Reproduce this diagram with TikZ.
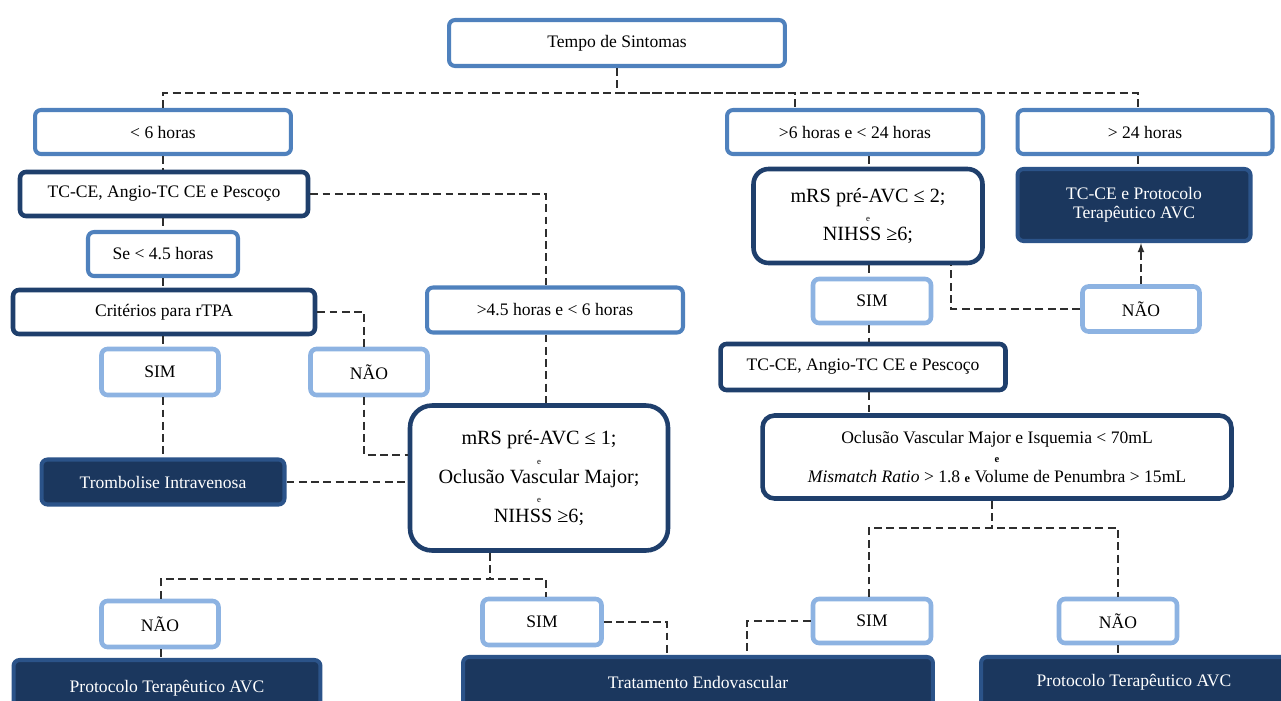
\documentclass[tikz,border=0pt]{standalone}
\usepackage{fontspec}
\setmainfont{Liberation Serif}
\usetikzlibrary{arrows}
\definecolor{midblue}{HTML}{4F81BD}
\definecolor{lightblue}{HTML}{8DB3E2}
\definecolor{navy}{HTML}{1F3F6C}
\definecolor{navyfill}{HTML}{1B375E}
\definecolor{navyedge}{HTML}{2B5389}
\definecolor{dashgray}{HTML}{2E2E2E}
\tikzset{bx/.append style={draw, rounded corners=0.12cm, align=center, inner sep=0pt, fill=white, font=\fontsize{10}{11}\selectfont}}
\tikzset{mb/.append style={bx, draw=midblue, line width=2.3pt}}
\tikzset{lb/.append style={bx, draw=lightblue, line width=2.6pt}}
\tikzset{nb/.append style={bx, draw=navy, line width=2.6pt}}
\tikzset{nf/.append style={bx, draw=navyedge, fill=navyfill, line width=2.3pt, text=white}}
\tikzset{big/.append style={font=\fontsize{11.5}{11}\selectfont}}
\tikzset{dl/.append style={draw=dashgray, line width=0.8pt, dash pattern=on 4.5pt off 2.5pt}}

\begin{document}
\begin{tikzpicture}[x=0.02cm,y=-0.02cm]
                \useasboundingbox (0,0) rectangle (1281,700);
                \clip (0,0) rectangle (1281,700);
                % top and time windows
                \node[mb,minimum width=6.72cm,minimum height=0.92cm] (tempo) at (617,43) {Tempo de Sintomas};
                \node[mb,minimum width=5.12cm,minimum height=0.88cm] (h6) at (163,132) {< 6 horas};
                \node[mb,minimum width=5.12cm,minimum height=0.88cm] (h24) at (855,132) {>6 horas e < 24 horas};
                \node[mb,minimum width=5.10cm,minimum height=0.88cm] (hmore) at (1145,132) {> 24 horas};
                % left branch
                \node[nb,minimum width=5.76cm,minimum height=0.88cm] (tcL) at (164,194) {TC-CE, Angio-TC CE e Pescoço};
                \node[mb,minimum width=3.0cm,minimum height=0.88cm] (se45) at (163,254) {Se < 4.5 horas};
                \node[nb,minimum width=6.04cm,minimum height=0.88cm] (crit) at (164,312) {Critérios para rTPA};
                \node[lb,minimum width=2.34cm,minimum height=0.92cm] (simA) at (160,372) {SIM};
                \node[lb,minimum width=2.34cm,minimum height=0.92cm] (naoA) at (369,372) {NÃO};
                \node[nf,minimum width=4.86cm,minimum height=0.9cm] (tromb) at (163,482) {Trombolise Intravenosa};
                \node[mb,minimum width=5.12cm,minimum height=0.9cm] (h45) at (555,310) {>4.5 horas e < 6 horas};
                \node[nb,big,rounded corners=0.44cm,minimum width=5.16cm,minimum height=2.9cm] (mrs1) at (539,478)
                    {mRS pré-AVC ≤ 1;\\ {\fontsize{5}{5}\selectfont e}\\ Oclusão Vascular Major;\\ {\fontsize{5}{5}\selectfont e}\\ NIHSS ≥6;};
                \node[lb,minimum width=2.34cm,minimum height=0.92cm] (naoB) at (160,624) {NÃO};
                \node[lb,minimum width=2.38cm,minimum height=0.92cm] (simB) at (542,622) {SIM};
                \node[nf,minimum width=6.14cm,minimum height=1.12cm] (protL) at (167,688) {Protocolo Terapêutico AVC};
                \node[nf,minimum width=9.4cm,minimum height=1.0cm] (trat) at (698,682) {Tratamento Endovascular};
                \node[nf,minimum width=6.12cm,minimum height=1.0cm] (protR) at (1134,682) {Protocolo Terapêutico AVC};
                % right branches
                \node[nb,big,rounded corners=0.3cm,minimum width=4.58cm,minimum height=1.88cm] (mrs2) at (868,216)
                    {mRS pré-AVC ≤ 2;\\ {\fontsize{5}{5}\selectfont e}\\ NIHSS ≥6;};
                \node[nf,minimum width=4.66cm,minimum height=1.44cm] (tcR) at (1134,205) {TC-CE e Protocolo\\ Terapêutico AVC};
                \node[lb,minimum width=2.36cm,minimum height=0.88cm] (simC) at (872,301) {SIM};
                \node[lb,minimum width=2.34cm,minimum height=0.9cm] (naoC) at (1141,309) {NÃO};
                \node[nb,minimum width=5.7cm,minimum height=0.92cm] (tcM) at (863,367) {TC-CE, Angio-TC CE e Pescoço};
                \node[nb,rounded corners=0.24cm,minimum width=9.38cm,minimum height=1.66cm] (ocl) at (997,457)
                    {Oclusão Vascular Major e Isquemia < 70mL\\ {\fontsize{6}{6}\selectfont\bfseries e}\\ \textit{Mismatch Ratio} > 1.8 {\fontsize{7}{7}\selectfont\bfseries e} Volume de Penumbra > 15mL};
                \node[lb,minimum width=2.36cm,minimum height=0.88cm] (simD) at (872,621) {SIM};
                \node[lb,minimum width=2.36cm,minimum height=0.88cm] (naoD) at (1118,621) {NÃO};
                % connectors
                \coordinate (trunk) at (617,93);
                \coordinate (jB) at (490,579);
                \coordinate (jD) at (992,528);
                \draw[dl] (tempo.south) -- (trunk);
                \draw[dl] (h6.north) |- (trunk) -| (1138,0 |- hmore.north);
                \draw[dl] (trunk) -| (795,0 |- h24.north);
                \draw[dl] (163,0 |- h6.south) -- (163,0 |- tcL.north);
                \draw[dl] (163,0 |- tcL.south) -- (163,0 |- se45.north);
                \draw[dl] (163,0 |- se45.south) -- (163,0 |- crit.north);
                \draw[dl] (163,0 |- crit.south) -- (163,0 |- simA.north);
                \draw[dl] (163,0 |- simA.south) -- (163,0 |- tromb.north);
                \draw[dl] (tcL.east) -| (546,0 |- h45.north);
                \draw[dl] (crit.east) -| (364,0 |- naoA.north);
                \draw[dl] (364,0 |- naoA.south) |- (mrs1.west |- 0,455);
                \draw[dl] (tromb.east) -- (tromb.east -| mrs1.west);
                \draw[dl] (546,0 |- h45.south) -- (546,0 |- mrs1.north);
                \draw[dl] (490,0 |- mrs1.south) -- (jB);
                \draw[dl] (161,0 |- naoB.north) |- (jB) -| (546,0 |- simB.north);
                \draw[dl] (161,0 |- naoB.south) -- (161,0 |- protL.north);
                \draw[dl] (simB.east) -| (667,0 |- trat.north);
                \draw[dl] (simD.west) -| (747,0 |- trat.north);
                \draw[dl] (naoD.south) -- (naoD.south |- protR.north);
                \draw[dl] (869,0 |- h24.south) -- (869,0 |- mrs2.north);
                \draw[dl] (869,0 |- mrs2.south) -- (869,0 |- simC.north);
                \draw[dl] (869,0 |- simC.south) -- (869,0 |- tcM.north);
                \draw[dl] (869,0 |- tcM.south) -- (869,0 |- ocl.north);
                \draw[dl] (1138,0 |- hmore.south) -- (1138,0 |- tcR.north);
                \draw[dl,-latex] (naoC.north) -- (naoC.north |- tcR.south);
                \draw[dl] (naoC.west) -| (951,0 |- mrs2.south);
                \draw[dl] (992,0 |- ocl.south) -- (jD);
                \draw[dl] (869,0 |- simD.north) |- (jD) -| (naoD.north);
            \end{tikzpicture}
\end{document}
